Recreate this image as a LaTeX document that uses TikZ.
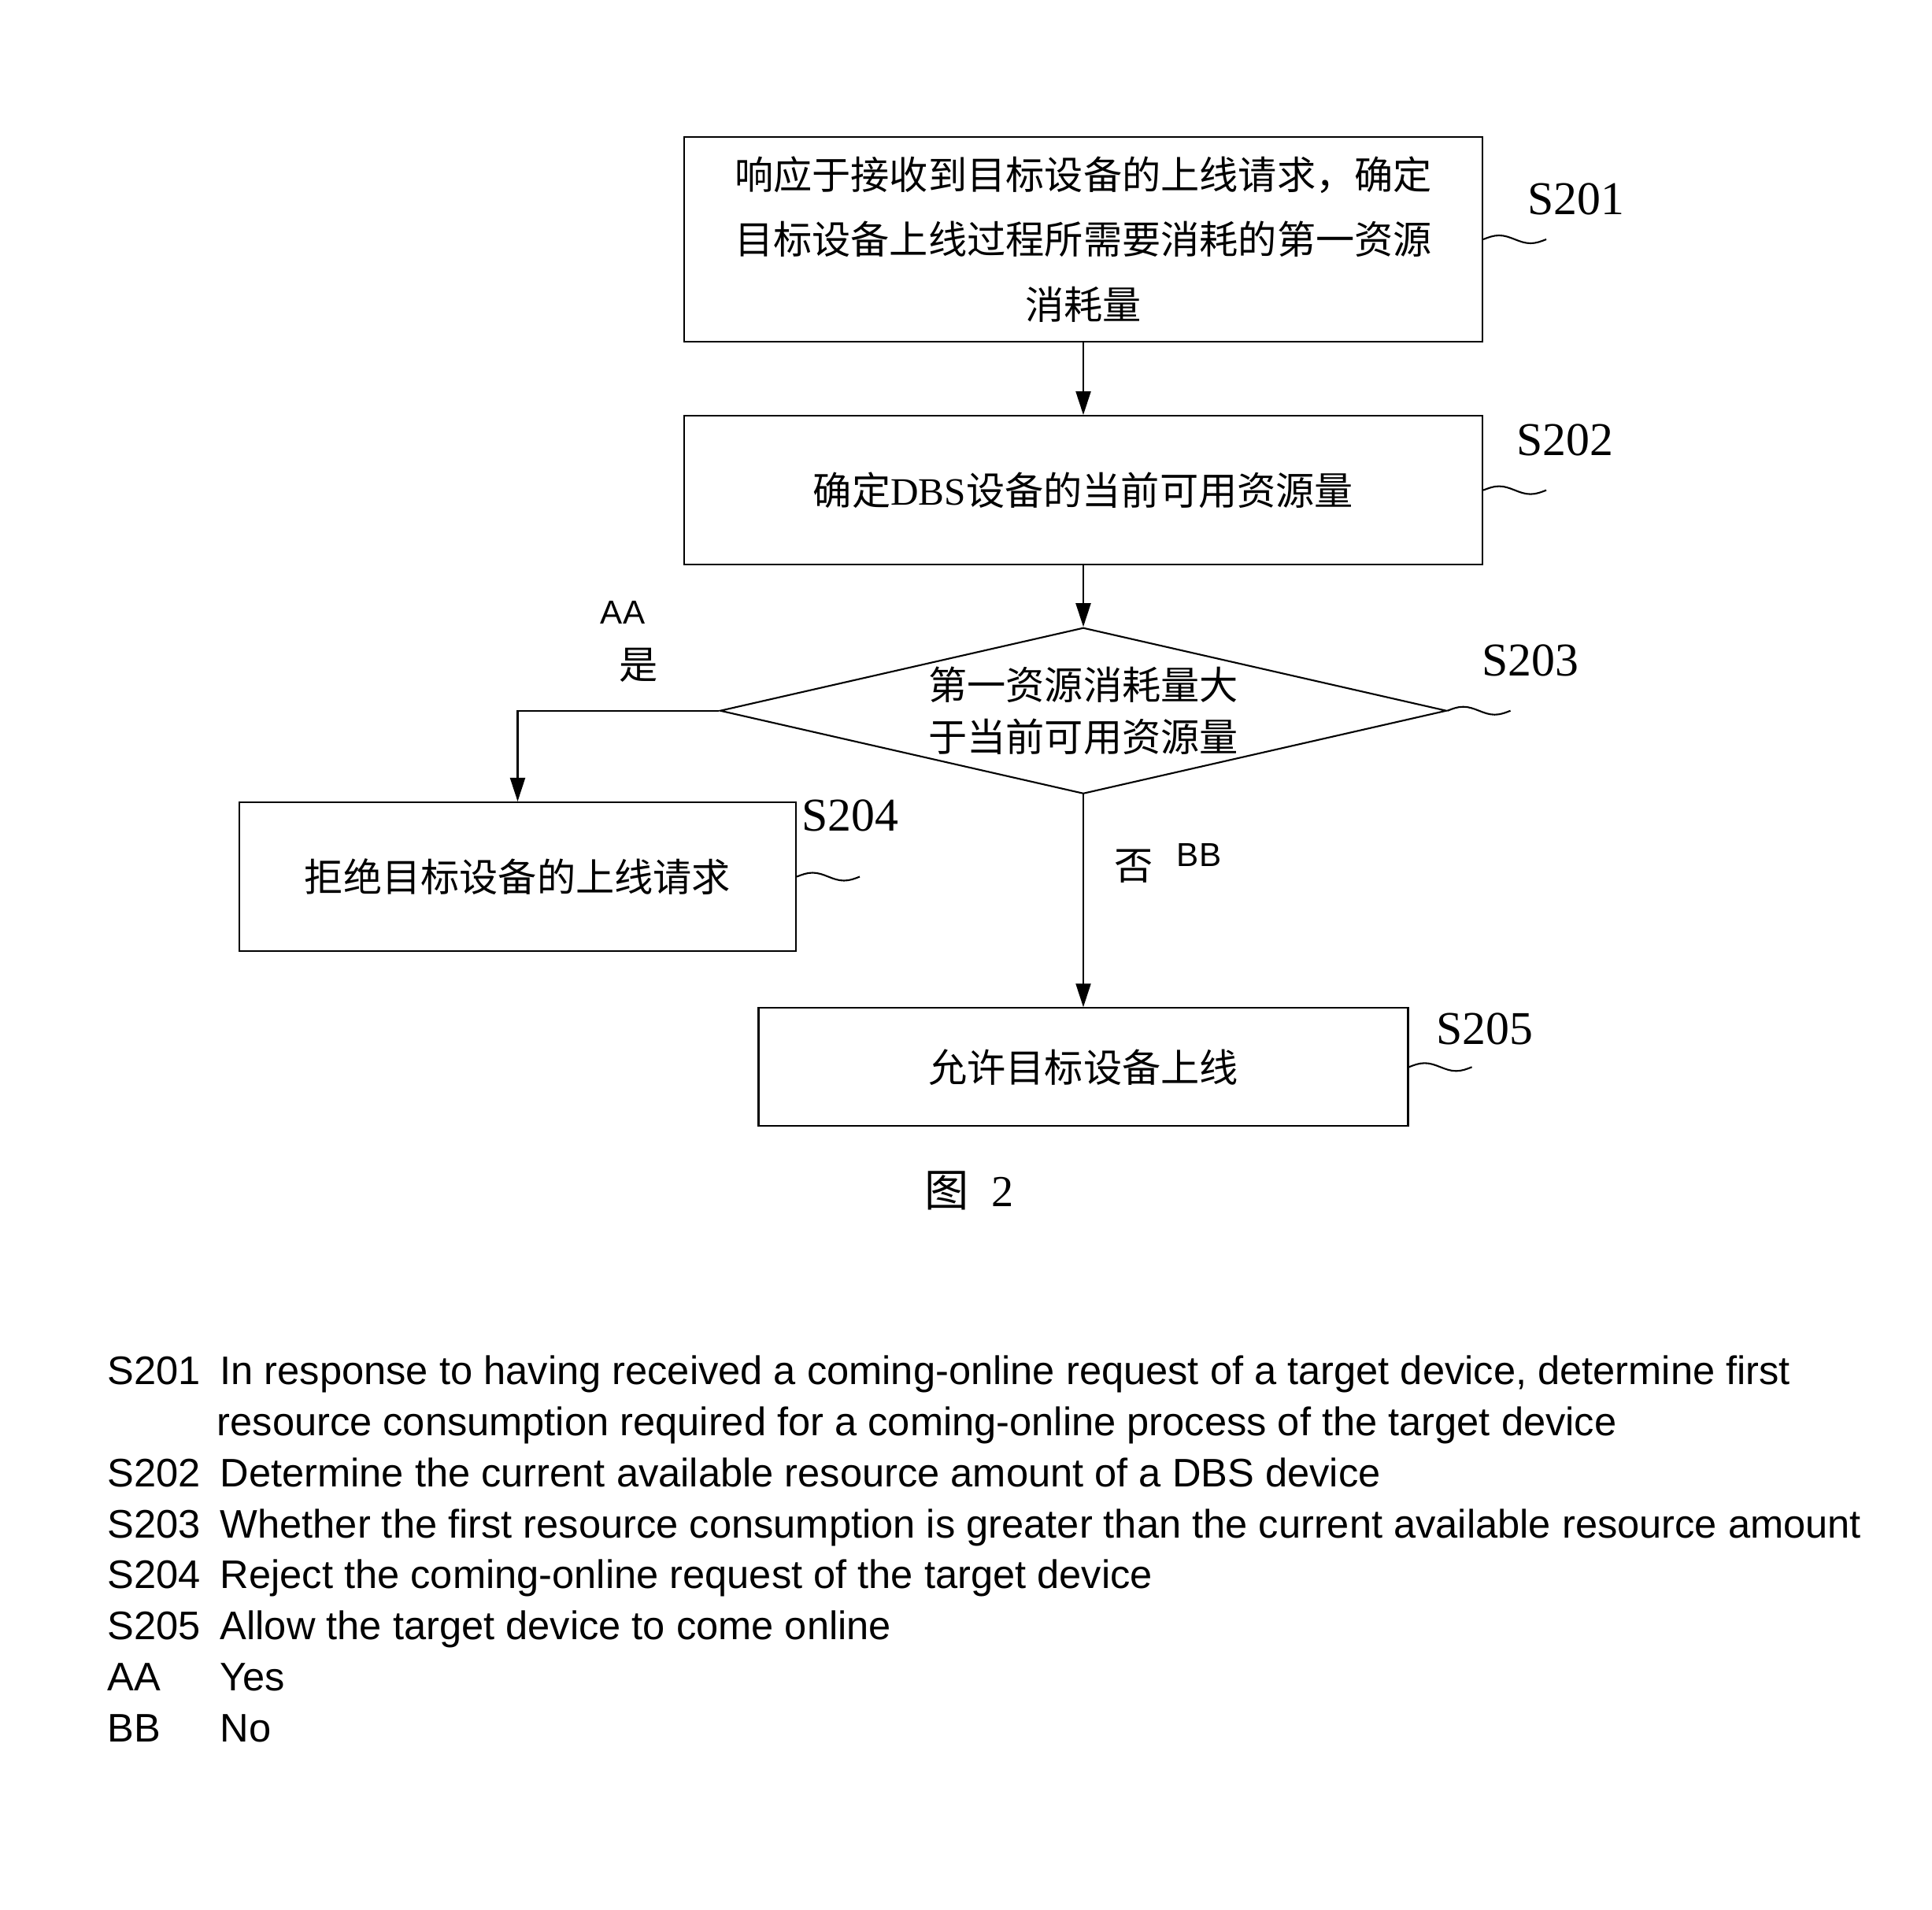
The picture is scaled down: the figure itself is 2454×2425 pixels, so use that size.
\documentclass[tikz,border=0pt]{standalone}
\usepackage{fontspec}
\setmainfont{Liberation Serif}
\setsansfont{Liberation Sans}
\newfontfamily\cjk{Noto Sans CJK SC}
\usetikzlibrary{positioning,arrows.meta,shapes.geometric}

\begin{document}
\begin{tikzpicture}[
    x=0.1mm, y=-0.1mm,
    >={Triangle[length=3mm,width=1.9mm]},
    stepbox/.style={
        draw,
        line width=0.6pt,
        inner sep=0pt,
        align=center,
        font=\cjk\fontsize{14}{23.5}\selectfont
    },
    decision/.style={
        diamond,
        aspect=4.37,
        draw,
        line width=0.6pt,
        inner sep=0pt,
        align=center,
        minimum width=92.3mm,
        minimum height=21.1mm,
        font=\cjk\fontsize{14}{18.8}\selectfont
    },
    steplabel/.style={font=\fontsize{17}{20}\selectfont, inner sep=0pt},
    branch/.style={font=\cjk\fontsize{14}{16}\selectfont, inner sep=0pt},
    tag/.style={font=\sffamily\fontsize{12}{14}\selectfont, inner sep=0pt},
    flow/.style={->, line width=0.6pt},
    tilde/.style={line width=0.6pt},
    legend/.style={anchor=base west, inner sep=0pt, font=\sffamily\fontsize{14.4}{16}\selectfont}
]
\useasboundingbox (0,0) rectangle (2454,2425);

% steps
\node[stepbox, minimum width=101.4mm, minimum height=26mm] (s201) at (1376,304)
    {响应于接收到目标设备的上线请求，确定\\目标设备上线过程所需要消耗的第一资源\\消耗量};
\node[stepbox, minimum width=101.4mm, minimum height=18.9mm, below=9.2mm of s201] (s202)
    {确定{\rmfamily DBS}设备的当前可用资源量};
\node[decision, below=7.8mm of s202] (dec) {第一资源消耗量大\\于当前可用资源量};
\node[stepbox, minimum width=70.7mm, minimum height=18.9mm] (s204) at (657.5,1113.5)
    {拒绝目标设备的上线请求};
\node[stepbox, minimum width=82.5mm, minimum height=15mm, below=27mm of dec] (s205)
    {允许目标设备上线};

% step numbers
\node[steplabel] (l201) at (2002,253) {S201};
\node[steplabel] (l202) at (1988,559) {S202};
\node[steplabel] (l203) at (1944,839) {S203};
\node[steplabel] (l204) at (1080,1036) {S204};
\node[steplabel] (l205) at (1886,1307) {S205};

\draw[tilde] (s201.east) sin ++(20,-5) cos ++(20,5) sin ++(20,5) cos ++(20,-5);
\draw[tilde] (s202.east) sin ++(20,-5) cos ++(20,5) sin ++(20,5) cos ++(20,-5);
\draw[tilde] (dec.east) sin ++(20,-5) cos ++(20,5) sin ++(20,5) cos ++(20,-5);
\draw[tilde] (s204.east) sin ++(20,-5) cos ++(20,5) sin ++(20,5) cos ++(20,-5);
\draw[tilde] (s205.east) sin ++(20,-5) cos ++(20,5) sin ++(20,5) cos ++(20,-5);

% flow
\draw[flow] (s201) -- (s202);
\draw[flow] (s202) -- (dec);
\draw[flow] (dec.west) -| (s204.north);
\draw[flow] (dec) -- (s205);

\node[tag] (aa) at (791,778) {AA};
\node[branch] (yes) at (811,845) {是};
\node[branch] (no) at (1440,1100) {否};
\node[tag] (bb) at (1523,1086) {BB};

\node[font=\fontsize{16}{18}\selectfont, inner sep=0pt] (fig) at (1231,1512) {{\cjk 图}\enspace 2};

% legend
\node[legend] (k201) at (136,1758) {S201};
\node[legend] (t201) at (279,1758) {In response to having received a coming-online request of a target device, determine first};
\node[legend] (t201b) at (275,1823) {resource consumption required for a coming-online process of the target device};
\node[legend] (k202) at (136,1888) {S202};
\node[legend] (t202) at (279,1888) {Determine the current available resource amount of a DBS device};
\node[legend] (k203) at (136,1953) {S203};
\node[legend] (t203) at (279,1953) {Whether the first resource consumption is greater than the current available resource amount};
\node[legend] (k204) at (136,2017) {S204};
\node[legend] (t204) at (279,2017) {Reject the coming-online request of the target device};
\node[legend] (k205) at (136,2082) {S205};
\node[legend] (t205) at (279,2082) {Allow the target device to come online};
\node[legend] (kaa) at (136,2147) {AA};
\node[legend] (taa) at (279,2147) {Yes};
\node[legend] (kbb) at (136,2212) {BB};
\node[legend] (tbb) at (279,2212) {No};

\end{tikzpicture}
\end{document}
